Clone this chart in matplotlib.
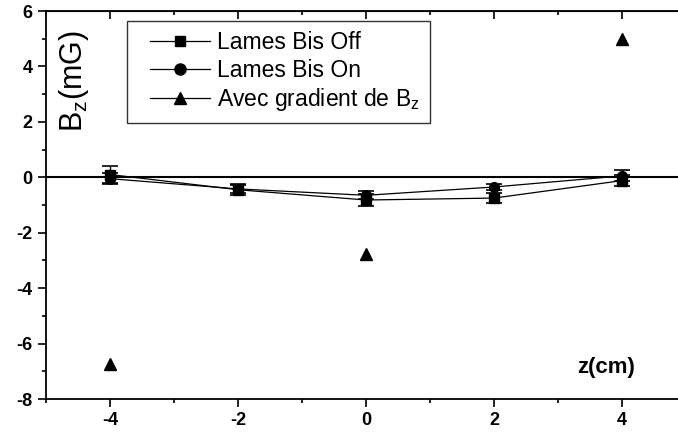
import numpy as np
import matplotlib
matplotlib.use("Agg")
import matplotlib.pyplot as plt
from matplotlib.lines import Line2D
from matplotlib.legend_handler import HandlerLine2D

plt.rcParams['font.family'] = ['Liberation Sans', 'DejaVu Sans']
plt.rcParams['mathtext.fontset'] = 'custom'
plt.rcParams['mathtext.rm'] = 'Liberation Sans'
plt.rcParams['mathtext.it'] = 'Liberation Sans'
plt.rcParams['axes.unicode_minus'] = False

# data
z = [-4, -2, 0, 2, 4]
bis_off = [0.1, -0.45, -0.82, -0.75, -0.12]
bis_off_err = [0.3, 0.2, 0.2, 0.18, 0.2]
bis_on = [-0.05, -0.42, -0.65, -0.35, 0.05]
bis_on_err = [0.2, 0.15, 0.15, 0.12, 0.2]
z_grad = [-4, 0, 4]
grad = [-6.75, -2.75, 5.0]

fig = plt.figure(figsize=(6.78, 4.37), dpi=100)
# right spine lies outside the picture in the original
ax = fig.add_axes([46/678, 38/437, 640/678, 388/437])

ax.axhline(0, color='black', lw=1.5, zorder=1)
ax.errorbar(z, bis_off, yerr=bis_off_err, color='black', marker='s', ms=7,
            lw=0.9, capsize=6, capthick=1.2, elinewidth=1)
ax.errorbar(z, bis_on, yerr=bis_on_err, color='black', marker='o', ms=7,
            lw=0.9, capsize=6, capthick=1.2, elinewidth=1)
ax.plot(z_grad, grad, ls='none', color='black', marker='^', ms=9)

ax.set_xlim(-5, 5)
ax.set_ylim(-8, 6)
ax.set_xticks([-4, -2, 0, 2, 4])
ax.set_yticks(np.arange(-8, 7, 2))
ax.set_xticks(np.arange(-5, 6, 1), minor=True)
ax.set_yticks(np.arange(-8, 7, 1), minor=True)
ax.tick_params(axis='both', which='major', labelsize=13, width=1.2, length=6)
ax.tick_params(axis='both', which='minor', width=1.2, length=3)
for lab in ax.get_xticklabels() + ax.get_yticklabels():
    lab.set_fontweight('bold')
for s in ax.spines.values():
    s.set_linewidth(1.3)

# top ticks point inward
sec = ax.secondary_xaxis('top')
sec.set_xticks([-4, -2, 0, 2, 4])
sec.set_xticks(np.arange(-5, 6, 1), minor=True)
sec.tick_params(which='major', direction='in', length=6, width=1.2, labeltop=False)
sec.tick_params(which='minor', direction='in', length=3, width=1.2)

ax.text(0.043, 0.82, r'B$_z$(mG)', rotation=90, fontsize=22,
        transform=ax.transAxes, ha='center', va='center')
ax.text(0.875, 0.08, 'z(cm)', fontsize=16, fontweight='bold',
        transform=ax.transAxes, ha='center', va='center')

handles = [
    Line2D([], [], color='black', lw=0.9, marker='s', ms=7),
    Line2D([], [], color='black', lw=0.9, marker='o', ms=8),
    Line2D([], [], color='black', lw=0.9, marker='^', ms=8),
]
labels = ['Lames Bis Off', 'Lames Bis On', r'Avec gradient de B$_z$']
leg = ax.legend(handles, labels, loc='upper left', bbox_to_anchor=(0.1266, 0.974),
                fontsize=16.5, frameon=True, fancybox=False, edgecolor='black',
                handlelength=3.2, handletextpad=0.3, borderpad=0.43,
                labelspacing=0.2, borderaxespad=0,
                handler_map={Line2D: HandlerLine2D(xpad=0.57)})
leg.get_frame().set_linewidth(1.0)

fig.savefig('out.png', dpi=100)
